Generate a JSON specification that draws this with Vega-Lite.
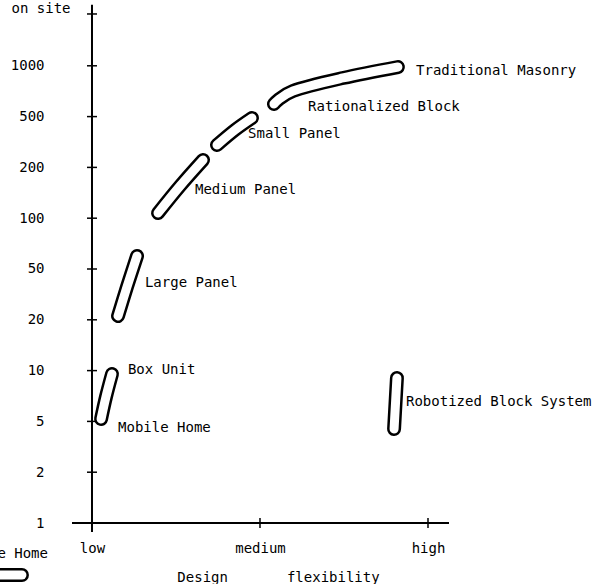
{
  "$schema": "https://vega.github.io/schema/vega-lite/v6.json",
  "width": 377,
  "height": 529,
  "autosize": "none",
  "padding": {"left": 72, "top": 3, "right": 148, "bottom": 52},
  "background": "white",
  "config": {"view": {"stroke": null}, "font": "DejaVu Sans Mono"},
  "datasets": {
    "axes": [
      {"x": 1, "y": -0.177, "x2": 1, "y2": 10.2},
      {"x": 0.881, "y": 0, "x2": 3.125, "y2": 0}
    ],
    "yticks": [
      {"x": 1, "y": 0}, {"x": 1, "y": 1}, {"x": 1, "y": 2}, {"x": 1, "y": 3}, {"x": 1, "y": 4},
      {"x": 1, "y": 5}, {"x": 1, "y": 6}, {"x": 1, "y": 7}, {"x": 1, "y": 8}, {"x": 1, "y": 9},
      {"x": 1, "y": 10.02}
    ],
    "xticks": [{"x": 2, "y": 0}, {"x": 3, "y": 0}],
    "shapes": [
      {"shape": "Traditional Masonry", "i": 0, "x": 2.083, "y": 8.248},
      {"shape": "Traditional Masonry", "i": 1, "x": 2.196, "y": 8.504},
      {"shape": "Traditional Masonry", "i": 2, "x": 2.494, "y": 8.76},
      {"shape": "Traditional Masonry", "i": 3, "x": 2.821, "y": 8.976},
      {"shape": "Small Panel", "i": 0, "x": 1.744, "y": 7.441},
      {"shape": "Small Panel", "i": 1, "x": 1.851, "y": 7.736},
      {"shape": "Small Panel", "i": 2, "x": 1.952, "y": 7.972},
      {"shape": "Medium Panel", "i": 0, "x": 1.393, "y": 6.102},
      {"shape": "Medium Panel", "i": 1, "x": 1.524, "y": 6.634},
      {"shape": "Medium Panel", "i": 2, "x": 1.661, "y": 7.146},
      {"shape": "Large Panel", "i": 0, "x": 1.155, "y": 4.075},
      {"shape": "Large Panel", "i": 1, "x": 1.208, "y": 4.646},
      {"shape": "Large Panel", "i": 2, "x": 1.268, "y": 5.256},
      {"shape": "Box Unit", "i": 0, "x": 1.054, "y": 2.047},
      {"shape": "Box Unit", "i": 1, "x": 1.083, "y": 2.48},
      {"shape": "Box Unit", "i": 2, "x": 1.119, "y": 2.933},
      {"shape": "Robotized Block System", "i": 0, "x": 2.798, "y": 1.85},
      {"shape": "Robotized Block System", "i": 1, "x": 2.815, "y": 2.854},
      {"shape": "Mobile Home key", "i": 0, "x": 0.333, "y": -1.024},
      {"shape": "Mobile Home key", "i": 1, "x": 0.583, "y": -1.024}
    ],
    "labels": [
      {"label": "Traditional Masonry", "x": 2.929, "y": 8.898},
      {"label": "Rationalized Block", "x": 2.286, "y": 8.189},
      {"label": "Small Panel", "x": 1.929, "y": 7.657},
      {"label": "Medium Panel", "x": 1.613, "y": 6.555},
      {"label": "Large Panel", "x": 1.315, "y": 4.724},
      {"label": "Box Unit", "x": 1.214, "y": 3.012},
      {"label": "Mobile Home", "x": 1.155, "y": 1.87},
      {"label": "Robotized Block System", "x": 2.869, "y": 2.382}
    ],
    "keylabels": [
      {"label": "e Home", "x": 0.738, "y": -0.61}
    ]
  },
  "encoding": {
    "x": {
      "field": "x", "type": "quantitative",
      "scale": {"domain": [0.881, 3.125], "zero": false, "nice": false},
      "axis": {
        "values": [1, 2, 3],
        "labelExpr": "['low','medium','high'][round(datum.value)-1]",
        "ticks": false, "tickSize": 0, "domain": false, "grid": false,
        "labelPadding": 9, "labelFontSize": 14, "labelFont": "DejaVu Sans Mono", "labelColor": "#000", "labelFlush": false,
        "title": "Design\u00a0\u00a0\u00a0\u00a0\u00a0\u00a0\u00a0flexibility",
        "titleFont": "DejaVu Sans Mono", "titleFontSize": 14, "titleFontWeight": "normal", "titleColor": "#000",
        "titleX": 206, "titleY": 45, "titleBaseline": "middle", "titleAlign": "center"
      }
    },
    "y": {
      "field": "y", "type": "quantitative",
      "scale": {"domain": [-0.177, 10.236], "zero": false, "nice": false},
      "axis": {
        "values": [0, 1, 2, 3, 4, 5, 6, 7, 8, 9],
        "labelExpr": "['1','2','5','10','20','50','100','200','500','1000'][round(datum.value)]",
        "ticks": false, "tickSize": 0, "domain": false, "grid": false,
        "labelPadding": 28, "labelFontSize": 14, "labelFont": "DejaVu Sans Mono", "labelColor": "#000", "labelFlush": false, "labelOverlap": false,
        "title": "on site", "titleAngle": 0, "titleAlign": "left", "titleBaseline": "middle",
        "titleX": -61, "titleY": 5,
        "titleFont": "DejaVu Sans Mono", "titleFontSize": 14, "titleFontWeight": "normal", "titleColor": "#000"
      }
    }
  },
  "layer": [
    {
      "data": {"name": "axes"},
      "mark": {"type": "rule", "color": "#000", "strokeWidth": 2},
      "encoding": {"x2": {"field": "x2"}, "y2": {"field": "y2"}}
    },
    {
      "data": {"name": "yticks"},
      "mark": {"type": "tick", "orient": "horizontal", "size": 10, "thickness": 1.5, "color": "#000", "opacity": 1},
      "encoding": {}
    },
    {
      "data": {"name": "xticks"},
      "mark": {"type": "tick", "orient": "vertical", "size": 10, "thickness": 1.5, "color": "#000", "opacity": 1},
      "encoding": {}
    },
    {
      "data": {"name": "shapes"},
      "mark": {"type": "line", "color": "#000", "strokeWidth": 14, "strokeCap": "round", "strokeJoin": "round", "interpolate": "cardinal"},
      "encoding": {"detail": {"field": "shape"}, "order": {"field": "i"}}
    },
    {
      "data": {"name": "shapes"},
      "mark": {"type": "line", "color": "white", "strokeWidth": 9, "strokeCap": "round", "strokeJoin": "round", "interpolate": "cardinal"},
      "encoding": {"detail": {"field": "shape"}, "order": {"field": "i"}}
    },
    {
      "data": {"name": "labels"},
      "mark": {"type": "text", "align": "left", "baseline": "middle", "fontSize": 14, "font": "DejaVu Sans Mono", "color": "#000"},
      "encoding": {"text": {"field": "label"}}
    },
    {
      "data": {"name": "keylabels"},
      "mark": {"type": "text", "align": "right", "baseline": "middle", "fontSize": 14, "font": "DejaVu Sans Mono", "color": "#000"},
      "encoding": {"text": {"field": "label"}}
    }
  ]
}
